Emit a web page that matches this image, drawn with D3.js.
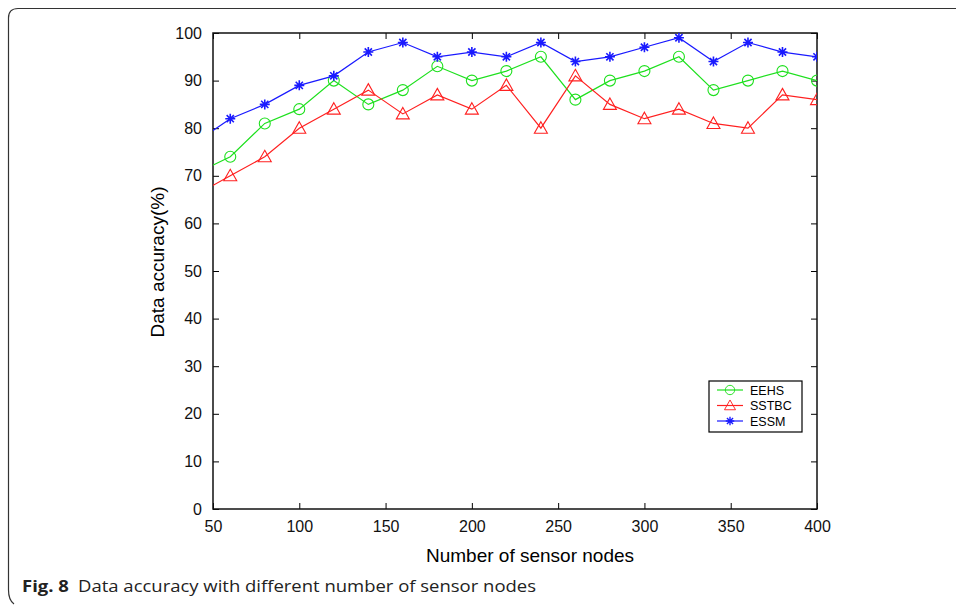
<!DOCTYPE html>
<html>
<head>
<meta charset="utf-8">
<script src="https://cdn.jsdelivr.net/npm/d3@7"></script>
<style>
  body { margin: 0; background: #fff; }
  svg { display: block; }
</style>
</head>
<body>
<div id="chart"></div>
<script>
/*=====================================================================
 data
======================================================================*/
var nodes = [40, 60, 80, 100, 120, 140, 160, 180, 200, 220, 240, 260, 280, 300, 320, 340, 360, 380, 400];
var eehs  = [70.5, 74, 81, 84, 90, 85, 88, 93, 90, 92, 95, 86, 90, 92, 95, 88, 90, 92, 90];
var sstbc = [66, 70, 74, 80, 84, 88, 83, 87, 84, 89, 80, 91, 85, 82, 84, 81, 80, 87, 86];
var essm  = [77, 82, 85, 89, 91, 96, 98, 95, 96, 95, 98, 94, 95, 97, 99, 94, 98, 96, 95];

var xTicks = [50, 100, 150, 200, 250, 300, 350, 400];
var yTicks = [0, 10, 20, 30, 40, 50, 60, 70, 80, 90, 100];

var seriesNames = ["EEHS", "SSTBC", "ESSM"];
var seriesColors = ["#1ee01e", "#ff2020", "#1a1aff"];
var seriesValues = [eehs, sstbc, essm];
var seriesMarks = ["circle", "triangle", "star"];

/*=====================================================================
 setup
======================================================================*/
var W = 956, H = 605;
var margin = { left: 213, right: 139, top: 33, bottom: 96 };
var width = W - margin.left - margin.right;
var height = H - margin.top - margin.bottom;
var labelFont = "Liberation Sans, Arial, sans-serif";

var svg = d3.select("#chart").append("svg")
    .attr("width", W)
    .attr("height", H);

// figure frame (rounded corner top-left / bottom-left)
svg.append("path")
    .attr("d", "M 956 8.5 L 18 8.5 Q 8.5 8.5 8.5 18 L 8.5 590 Q 8.5 600 14 604")
    .attr("fill", "none")
    .attr("stroke", "#333")
    .attr("stroke-width", 1.2);

var g = svg.append("g")
    .attr("transform", "translate(" + margin.left + "," + margin.top + ")");

var x = d3.scaleLinear().domain([50, 400]).range([0, width]);
var y = d3.scaleLinear().domain([0, 100]).range([height, 0]);

g.append("clipPath").attr("id", "clip")
    .append("rect").attr("x", 0).attr("y", -8).attr("width", width).attr("height", height + 8);

/*=====================================================================
 axes
======================================================================*/
var tickLen = 6;

function styleAxis(a, keepText) {
    a.select(".domain").remove();
    a.selectAll("line").attr("stroke", "#000");
    if (keepText) {
        a.selectAll("text")
            .style("font-family", labelFont)
            .style("font-size", "16px")
            .attr("fill", "#111");
    } else {
        a.selectAll("text").remove();
    }
}

g.append("g")
    .attr("transform", "translate(0," + height + ")")
    .call(d3.axisBottom(x).tickValues(xTicks).tickSizeInner(-tickLen).tickSizeOuter(0).tickPadding(12))
    .call(styleAxis, true);

g.append("g")
    .call(d3.axisTop(x).tickValues(xTicks).tickSizeInner(-tickLen).tickSizeOuter(0))
    .call(styleAxis, false);

g.append("g")
    .call(d3.axisLeft(y).tickValues(yTicks).tickSizeInner(-tickLen).tickSizeOuter(0).tickPadding(11))
    .call(styleAxis, true);

g.append("g")
    .attr("transform", "translate(" + width + ",0)")
    .call(d3.axisRight(y).tickValues(yTicks).tickSizeInner(-tickLen).tickSizeOuter(0))
    .call(styleAxis, false);

g.append("rect")
    .attr("width", width)
    .attr("height", height)
    .attr("fill", "none")
    .attr("stroke", "#111")
    .attr("stroke-width", 1.5);

/*=====================================================================
 markers
======================================================================*/
function drawMark(sel, kind, color) {
    if (kind == "circle") {
        sel.append("circle").attr("r", 5.5)
            .attr("fill", "none").attr("stroke", color).attr("stroke-width", 1.1);
    } else if (kind == "triangle") {
        sel.append("path").attr("d", "M0,-6.5 L6.5,5 L-6.5,5 Z")
            .attr("fill", "none").attr("stroke", color).attr("stroke-width", 1.1);
    } else {
        sel.append("path").attr("d", "M-5,0 L5,0 M0,-5 L0,5 M-3.6,-3.6 L3.6,3.6 M-3.6,3.6 L3.6,-3.6")
            .attr("fill", "none").attr("stroke", color).attr("stroke-width", 1.6);
    }
}

/*=====================================================================
 lines
======================================================================*/
var line = d3.line()
    .x(function (d) { return x(d[0]); })
    .y(function (d) { return y(d[1]); });

seriesValues.forEach(function (vals, s) {
    var pts = nodes.map(function (n, i) { return [n, vals[i]]; });
    var sg = g.append("g").attr("clip-path", "url(#clip)");
    sg.append("path")
        .datum(pts)
        .attr("d", line)
        .attr("fill", "none")
        .attr("stroke", seriesColors[s])
        .attr("stroke-width", 1.2);
    sg.selectAll(".mk")
        .data(pts.filter(function (d) { return d[0] >= 50; }))
        .enter().append("g")
        .attr("transform", function (d) { return "translate(" + x(d[0]) + "," + y(d[1]) + ")"; })
        .each(function () { drawMark(d3.select(this), seriesMarks[s], seriesColors[s]); });
});

/*=====================================================================
 legend
======================================================================*/
var legend = svg.append("g").attr("transform", "translate(709,381)");
legend.append("rect")
    .attr("width", 93).attr("height", 51)
    .attr("fill", "#fff").attr("stroke", "#000").attr("stroke-width", 1.2);

seriesNames.forEach(function (name, i) {
    var row = legend.append("g").attr("transform", "translate(0," + (9 + i * 15.5) + ")");
    row.append("line").attr("x1", 8).attr("x2", 34)
        .attr("stroke", seriesColors[i]).attr("stroke-width", 1.2);
    drawMark(row.append("g").attr("transform", "translate(21,0) scale(0.85)"), seriesMarks[i], seriesColors[i]);
    row.append("text")
        .attr("x", 41).attr("y", 4.5)
        .style("font-family", labelFont)
        .style("font-size", "12.5px")
        .text(name);
});

/*=====================================================================
 labels
======================================================================*/
svg.append("text")
    .attr("x", 530)
    .attr("y", 562)
    .attr("text-anchor", "middle")
    .style("font-family", labelFont)
    .style("font-size", "19px")
    .text("Number of sensor nodes");

svg.append("text")
    .attr("transform", "translate(164,262) rotate(-90)")
    .attr("text-anchor", "middle")
    .style("font-family", labelFont)
    .style("font-size", "19px")
    .text("Data accuracy(%)");

var cap = svg.append("text")
    .attr("x", 22)
    .attr("y", 592)
    .style("font-family", "Open Sans, Noto Sans, sans-serif")
    .style("font-size", "16px")
    .attr("fill", "#222");
cap.append("tspan").style("font-weight", "bold").text("Fig. 8");
cap.append("tspan").attr("dx", 8).text("Data accuracy with different number of sensor nodes");
cap.attr("textLength", 514).attr("lengthAdjust", "spacingAndGlyphs");
</script>
</body>
</html>
